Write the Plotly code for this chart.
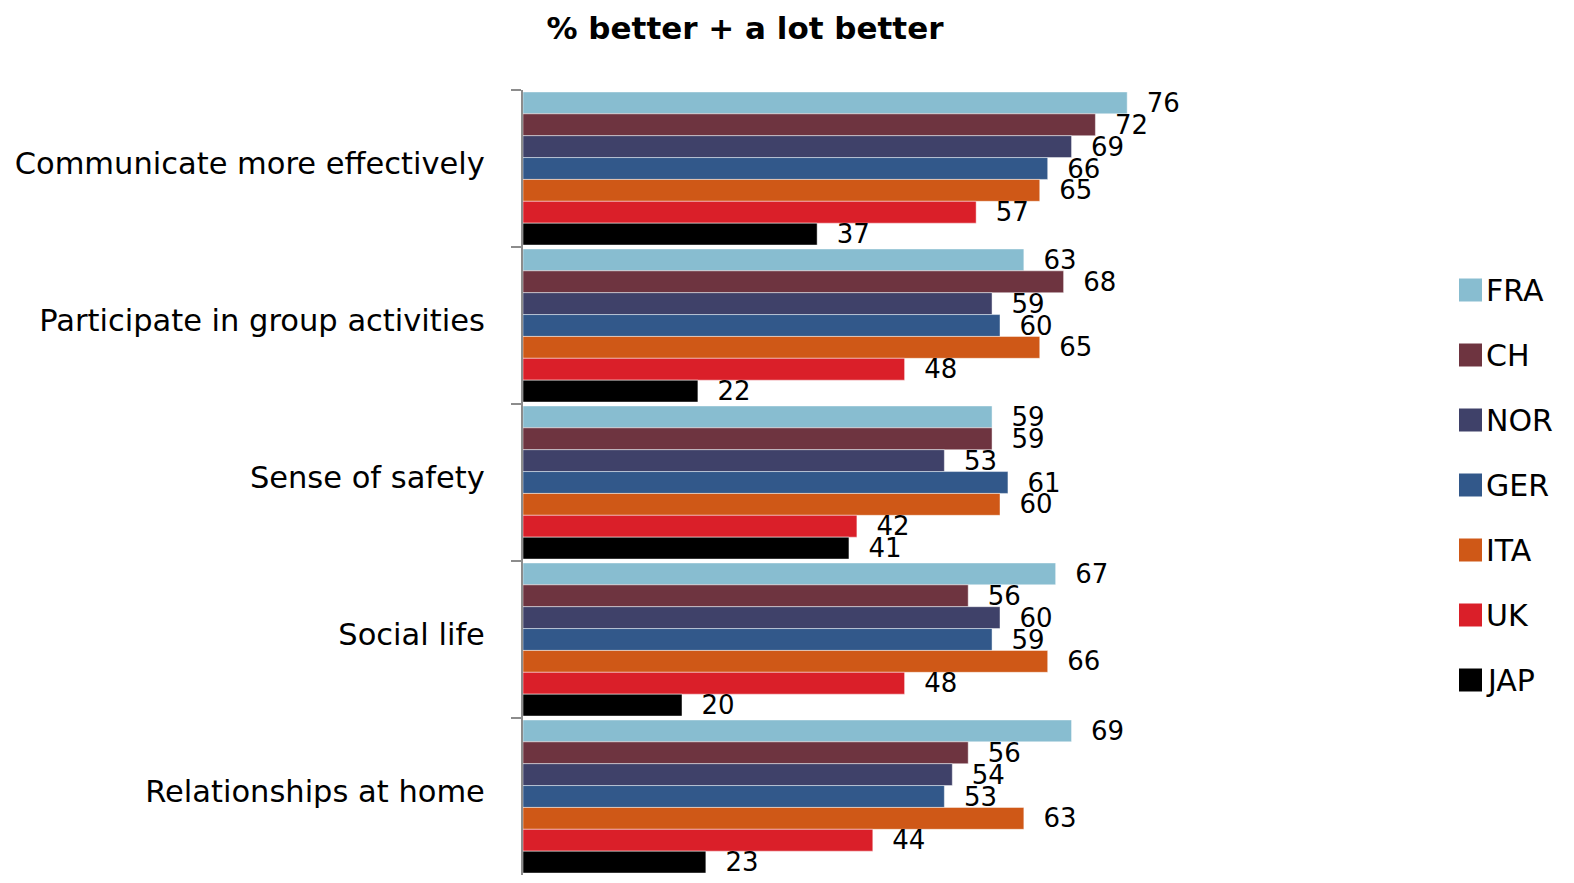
import plotly.graph_objects as go

categories = ["Communicate more effectively", "Participate in group activities",
              "Sense of safety", "Social life", "Relationships at home"]
series_names = ["FRA", "CH", "NOR", "GER", "ITA", "UK", "JAP"]
series_colors = ["#88BDD0", "#6E3440", "#3F4169", "#32588A", "#CF5817", "#DA1F29", "#000000"]
values = {
    "FRA": [76, 63, 59, 67, 69],
    "CH":  [72, 68, 59, 56, 56],
    "NOR": [69, 59, 53, 60, 54],
    "GER": [66, 60, 61, 59, 53],
    "ITA": [65, 65, 60, 66, 63],
    "UK":  [57, 48, 42, 48, 44],
    "JAP": [37, 22, 41, 20, 23],
}
title_text = "% better + a lot better"

FONT = "DejaVu Sans"
OFF = 8                      # default page body margin
W, H = 1574 - 2 * OFF, 883 - 2 * OFF
PL, PR, PT, PB = 523 - OFF, 1318 - OFF, 90 - OFF, H   # plot rect in figure px
PW, PH = PR - PL, PB - PT

def px_to_paper_x(x_page):
    return (x_page - OFF - PL) / PW

def px_to_paper_y(y_page):
    return (PB - (y_page - OFF)) / PH

fig = go.Figure()
for name, color in zip(series_names, series_colors):
    fig.add_trace(go.Bar(
        y=categories, x=values[name], name=name, orientation="h",
        marker=dict(color=color, line=dict(color="rgba(255,255,255,0.45)", width=1)),
        text=values[name], texttemplate="  %{x}", textposition="outside",
        constraintext="none", cliponaxis=False,
        textfont=dict(family=FONT, size=26, color="#000000"),
        showlegend=False,
    ))

# Legend built from series names/colors
shapes, annotations = [], []
for i, (name, color) in enumerate(zip(series_names, series_colors)):
    cy = 290 + i * 65
    shapes.append(dict(type="rect", xref="paper", yref="paper",
                       x0=px_to_paper_x(1459), x1=px_to_paper_x(1482),
                       y0=px_to_paper_y(cy + 11.5), y1=px_to_paper_y(cy - 11.5),
                       fillcolor=color, line=dict(width=0)))
    annotations.append(dict(xref="paper", yref="paper",
                            x=px_to_paper_x(1484), y=px_to_paper_y(cy),
                            text=name, showarrow=False, xanchor="left", yanchor="middle",
                            font=dict(family=FONT, size=30, color="#000000")))

fig.update_layout(
    width=W, height=H,
    barmode="group", bargap=0.025, bargroupgap=0,
    plot_bgcolor="white", paper_bgcolor="white",
    margin=dict(l=PL, r=W - PR, t=PT, b=H - PB, pad=0, autoexpand=False),
    title=dict(text=title_text, x=(745 - OFF) / W, xanchor="center",
               y=1 - (28 - OFF) / H, yanchor="middle",
               font=dict(family=FONT, size=31, color="#000000", weight="bold")),
    xaxis=dict(range=[0, 100], visible=False, fixedrange=True, automargin=False),
    yaxis=dict(autorange="reversed", showline=True, linecolor="#8C8C8C", linewidth=2,
               ticks="outside", tickson="boundaries", ticklen=10, tickcolor="#8C8C8C",
               tickwidth=2, showgrid=False, ticklabelstandoff=30, ticklabelshift=5,
               automargin=False,
               tickfont=dict(family=FONT, size=30.5, color="#000000")),
    shapes=shapes, annotations=annotations,
    font=dict(family=FONT),
)

fig.write_html("out.html")
